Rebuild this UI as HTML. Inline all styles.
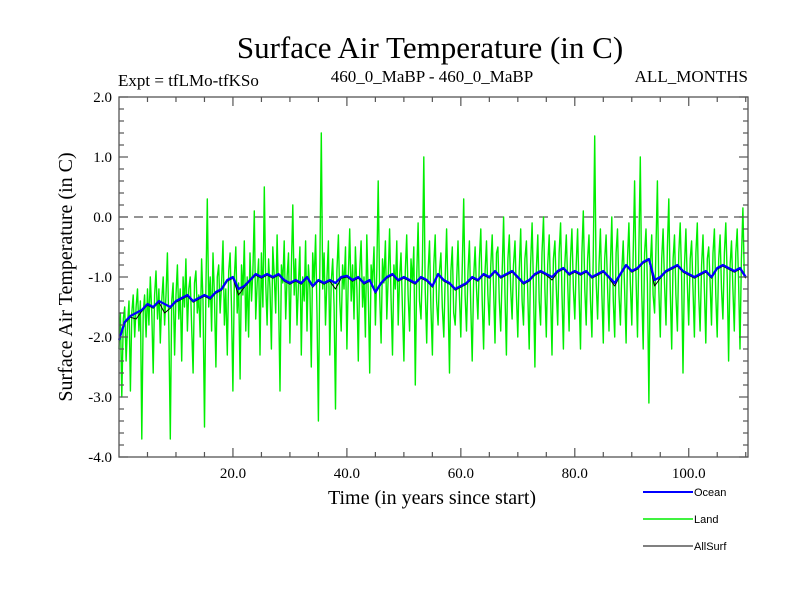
<!DOCTYPE html>
<html><head><meta charset="utf-8"><style>
body{margin:0;background:#fff}
svg{display:block}
.s{font-family:"Liberation Serif",serif;fill:#000}
.a{font-family:"Liberation Sans",sans-serif;fill:#000;font-size:11px}
</style></head><body>
<svg id="c" width="800" height="600" xmlns="http://www.w3.org/2000/svg">
<rect width="800" height="600" fill="#fff"/>
<text class="s" x="430" y="58" font-size="31" text-anchor="middle">Surface Air Temperature (in C)</text>
<text class="s" x="118" y="86" font-size="17">Expt = tfLMo-tfKSo</text>
<text class="s" x="432" y="82" font-size="17" text-anchor="middle">460_0_MaBP - 460_0_MaBP</text>
<text class="s" x="748" y="82" font-size="17" text-anchor="end">ALL_MONTHS</text>
<text class="s" x="432" y="504" font-size="20" text-anchor="middle">Time (in years since start)</text>
<text class="s" transform="translate(72,277) rotate(-90)" font-size="20" text-anchor="middle">Surface Air Temperature (in C)</text>
<g id="plot"></g>
<g id="axes"></g>
<g>
<line x1="643" y1="492" x2="693" y2="492" stroke="#0000ff" stroke-width="2"/>
<text class="a" x="694" y="496">Ocean</text>
<line x1="643" y1="519" x2="693" y2="519" stroke="#00ee00" stroke-width="1.5"/>
<text class="a" x="694" y="523">Land</text>
<line x1="643" y1="546" x2="693" y2="546" stroke="#000" stroke-width="1"/>
<text class="a" x="694" y="550">AllSurf</text>
</g>
</svg>
<script>
const xTicks=[20,40,60,80,100];
const xTickLabels=["20.0","40.0","60.0","80.0","100.0"];
const yTicks=[-4,-3,-2,-1,0,1,2];
const yTickLabels=["-4.0","-3.0","-2.0","-1.0","0.0","1.0","2.0"];
const landStep=0.25;
const land=[
-2.2,-1.6,-3.0,-1.7,-1.5,-2.4,-1.8,-1.4,-2.9,-1.6,-1.3,-2.0,-1.5,-1.2,-1.9,-1.4,-3.7,-1.6,-1.3,-2.0,
-1.2,-1.8,-1.0,-1.6,-2.6,-1.3,-0.9,-1.7,-1.2,-2.1,-1.4,-1.0,-1.8,-1.3,-0.6,-1.9,-3.7,-1.4,-1.1,-2.3,
-1.3,-0.8,-1.7,-1.2,-2.4,-1.0,-1.5,-0.7,-1.9,-1.2,-1.0,-1.8,-2.6,-1.1,-0.9,-1.6,-1.3,-2.0,-0.7,-1.4,
-3.5,-1.2,0.3,-1.5,-1.0,-1.9,-0.6,-1.3,-2.5,-1.0,-0.8,-1.6,-1.1,-0.4,-1.8,-1.2,-2.3,-0.9,-0.6,-1.5,
-2.9,-1.0,-0.5,-1.6,-1.1,-2.7,-0.8,-1.3,-0.4,-1.9,-1.0,-2.0,-0.6,-1.4,-0.9,0.1,-1.7,-1.1,-0.7,-2.3,
-0.6,-1.5,0.5,-1.1,-1.8,-0.7,-1.2,-2.2,-0.5,-1.0,-1.6,-0.3,-1.3,-2.9,-0.8,-1.1,-0.4,-1.7,-1.0,-0.6,
-2.1,-0.9,0.2,-1.3,-0.7,-1.8,-1.1,-0.5,-2.3,-1.0,-1.4,-0.4,-1.9,-0.8,-1.2,-2.5,-0.6,-1.1,-0.3,-1.6,
-3.4,-0.9,1.4,-1.2,-0.6,-1.8,-1.0,-0.4,-2.3,-1.1,-0.7,-1.5,-3.2,-0.9,-0.3,-1.4,-1.9,-0.8,-1.2,-0.5,
-2.2,-1.0,-0.2,-1.4,-0.8,-1.7,-0.5,-1.2,-2.4,-0.9,-0.4,-1.5,-1.0,-2.0,-0.3,-1.3,-2.6,-0.8,-1.1,-0.5,
-1.8,-0.9,0.6,-1.3,-2.1,-0.7,-1.1,-0.4,-1.7,-1.0,-0.2,-1.4,-2.3,-0.8,-1.2,-0.4,-1.8,-1.0,-0.6,-1.5,
-2.4,-0.9,-0.3,-1.3,-1.9,-0.7,-1.1,-0.5,-2.8,-1.0,-0.1,-1.4,-1.7,-0.8,1.0,-1.2,-2.1,-0.9,-0.4,-1.5,
-2.3,-0.8,-0.3,-1.4,-1.8,-0.9,-0.6,-1.5,-2.0,-1.0,-0.2,-1.3,-2.6,-0.9,-0.5,-1.6,-1.8,-1.1,-0.4,-1.3,
-2.0,-0.8,0.3,-1.3,-1.9,-0.9,-0.4,-1.5,-2.4,-1.0,-0.5,-1.2,-1.7,-0.7,-0.2,-1.4,-2.2,-0.9,-0.4,-1.3,
-1.8,-0.8,-0.3,-1.2,-2.1,-0.6,-0.5,-1.4,-1.9,-0.9,0.0,-1.3,-2.3,-0.7,-0.3,-1.2,-1.7,-0.8,-0.4,-1.3,
-2.0,-0.9,-0.2,-1.4,-1.8,-0.7,-0.4,-1.3,-2.2,-0.8,-0.1,-1.2,-2.5,-0.9,-0.3,-1.4,-1.8,-0.6,0.0,-1.2,
-2.0,-0.8,-0.3,-1.3,-2.3,-0.7,-0.4,-1.2,-1.8,-0.6,-0.1,-1.3,-2.2,-0.8,-0.3,-1.1,-1.9,-0.7,-0.2,-1.2,
-1.7,-0.8,-0.2,-1.3,-2.2,-0.6,0.1,-1.2,-1.8,-0.7,-0.3,-1.4,-2.0,-0.6,1.35,-1.1,-1.7,-0.8,-0.2,-1.3,
-2.1,-0.7,-0.3,-1.2,-1.9,-0.8,0.0,-1.4,-2.0,-0.6,-0.2,-1.3,-1.8,-0.9,-0.4,-1.2,-2.1,-0.7,-0.1,-1.1,
-1.8,-0.6,0.6,-1.0,-2.0,-0.5,1.0,-1.2,-2.2,-0.6,-0.2,-1.1,-3.1,-0.8,-0.3,-1.3,-1.6,-0.5,0.6,-1.2,
-2.0,-0.7,-0.2,-1.1,-1.8,-0.5,0.3,-1.2,-2.2,-0.7,-0.3,-1.3,-1.9,-0.6,-0.1,-1.0,-2.6,-0.8,-0.2,-1.1,
-1.8,-0.7,-0.4,-1.2,-2.0,-0.6,-0.1,-1.3,-1.9,-0.8,-0.3,-1.2,-2.1,-0.7,-0.5,-1.1,-1.8,-0.6,-0.2,-1.3,
-2.0,-0.7,-0.3,-1.2,-1.7,-0.6,-0.1,-1.0,-2.4,-0.8,-0.4,-1.2,-1.9,-0.6,-0.2,-1.1,-2.2,-0.7,0.15,-1.0,
-1.0];
const ocean=[-2.05,-1.75,-1.65,-1.6,-1.55,-1.45,-1.5,-1.4,-1.45,-1.5,-1.4,
-1.35,-1.3,-1.4,-1.35,-1.3,-1.35,-1.25,-1.2,-1.05,-1.0,
-1.2,-1.15,-1.05,-0.95,-1.0,-0.95,-1.0,-0.95,-1.05,-1.1,
-1.05,-1.1,-1.0,-1.15,-1.05,-1.1,-1.05,-1.1,-1.0,-0.98,
-1.05,-1.0,-1.1,-1.05,-1.25,-1.1,-1.0,-0.95,-1.05,-1.0,
-1.05,-1.1,-1.0,-1.05,-1.15,-0.95,-1.05,-1.1,-1.2,-1.15,
-1.1,-1.0,-1.05,-0.95,-1.0,-0.9,-1.0,-0.95,-0.9,-1.0,
-1.1,-1.05,-0.95,-0.9,-0.95,-1.0,-0.9,-0.85,-0.95,-0.9,
-0.95,-0.9,-1.0,-0.95,-0.9,-1.0,-1.1,-0.95,-0.8,-0.9,
-0.85,-0.75,-0.7,-1.05,-1.0,-0.9,-0.85,-0.8,-0.9,-0.95,
-1.0,-0.95,-0.9,-1.0,-0.85,-0.8,-0.85,-0.9,-0.85,-1.0];
const allSurf=[-2.07,-1.77,-1.67,-1.7,-1.57,-1.47,-1.52,-1.42,-1.6,-1.52,-1.42,
-1.37,-1.32,-1.42,-1.37,-1.32,-1.37,-1.27,-1.22,-1.07,-1.02,
-1.3,-1.17,-1.07,-0.97,-1.02,-0.97,-1.02,-0.97,-1.07,-1.12,
-1.07,-1.12,-1.02,-1.17,-1.07,-1.12,-1.07,-1.2,-1.02,-1.0,
-1.07,-1.02,-1.12,-1.07,-1.27,-1.12,-1.02,-0.97,-1.07,-1.02,
-1.07,-1.12,-1.02,-1.07,-1.17,-0.97,-1.07,-1.12,-1.22,-1.17,
-1.12,-1.02,-1.07,-0.97,-1.02,-0.92,-1.02,-0.97,-0.92,-1.02,
-1.12,-1.07,-0.97,-0.92,-0.97,-1.05,-0.92,-0.87,-0.97,-0.92,
-0.97,-0.92,-1.02,-0.97,-0.92,-1.02,-1.15,-0.97,-0.82,-0.92,
-0.87,-0.77,-0.72,-1.15,-1.02,-0.92,-0.87,-0.82,-0.92,-0.97,
-1.02,-0.97,-0.92,-1.02,-0.87,-0.82,-0.87,-0.92,-0.87,-1.02];
const L=119,R=748,T=97,B=457,X0=0,X1=110.4,Y0=-4,Y1=2;
const sx=v=>L+(v-X0)/(X1-X0)*(R-L);
const sy=v=>B-(v-Y0)/(Y1-Y0)*(B-T);
const NS="http://www.w3.org/2000/svg";
const plot=document.getElementById('plot'),axes=document.getElementById('axes');
function mk(tag,attrs,parent){const e=document.createElementNS(NS,tag);for(const k in attrs)e.setAttribute(k,attrs[k]);parent.appendChild(e);return e;}
const zero=mk('line',{x1:L,x2:R,y1:sy(0),y2:sy(0),stroke:'#555','stroke-width':1.2,'stroke-dasharray':'9,6'},plot);


function series(arr,step,color,w,name){
  const pts=arr.map((v,i)=>sx(i*step).toFixed(1)+','+sy(v).toFixed(1)).join(' ');
  const p=mk('polyline',{points:pts,fill:'none',stroke:color,'stroke-width':w,'stroke-linejoin':'round'},plot);
  
  
}
series(land,landStep,'#00ee00',1.4,'land-series');
series(allSurf,1,'#000',1,'allsurf-series');
series(ocean,1,'#0000ff',2.2,'ocean-series');
const frame=mk('rect',{x:L,y:T,width:R-L,height:B-T,fill:'none',stroke:'#555','stroke-width':1.3},axes);


for(let v=5;v<X1;v+=5){const maj=v%20===0;const len=maj?9:5;
  mk('line',{x1:sx(v),x2:sx(v),y1:B,y2:B-len,stroke:'#555','stroke-width':1.2},axes);
  mk('line',{x1:sx(v),x2:sx(v),y1:T,y2:T+len,stroke:'#555','stroke-width':1.2},axes);}
for(let k=-20;k<=10;k++){const v=k/5;const maj=k%5===0;const len=maj?9:5;
  mk('line',{x1:L,x2:L+len,y1:sy(v),y2:sy(v),stroke:'#555','stroke-width':1.2},axes);
  mk('line',{x1:R,x2:R-len,y1:sy(v),y2:sy(v),stroke:'#555','stroke-width':1.2},axes);}
xTicks.forEach((v,i)=>{const t=mk('text',{x:sx(v),y:B+21,'font-size':15,'text-anchor':'middle',class:'s'},axes);t.textContent=xTickLabels[i];
  
  });
yTicks.forEach((v,i)=>{const t=mk('text',{x:L-7,y:sy(v)+5,'font-size':15,'text-anchor':'end',class:'s'},axes);t.textContent=yTickLabels[i];
  
  });
</script>
</body></html>
